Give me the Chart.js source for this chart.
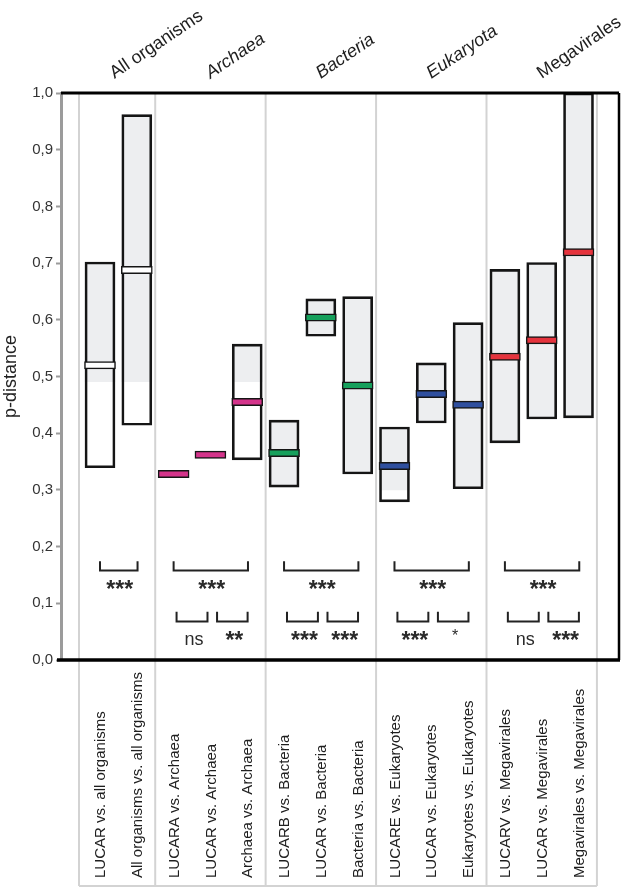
<!DOCTYPE html>
<html>
<head>
<meta charset="utf-8">
<title>p-distance comparisons</title>
<script src="https://cdn.jsdelivr.net/npm/chart.js@4.4.1/dist/chart.umd.min.js"></script>
<style>
    html, body { margin: 0; padding: 0; background: #fff; }
    #wrap { position: relative; width: 630px; height: 888px; }
</style>
</head>
<body>
<div id="wrap"><canvas id="pdistChart"></canvas></div>
<script>
// ---- data ----
const categories = [
    'LUCAR vs. all organisms', 'All organisms vs. all organisms',
    'LUCARA vs. Archaea', 'LUCAR vs. Archaea', 'Archaea vs. Archaea',
    'LUCARB vs. Bacteria', 'LUCAR vs. Bacteria', 'Bacteria vs. Bacteria',
    'LUCARE vs. Eukaryotes', 'LUCAR vs. Eukaryotes', 'Eukaryotes vs. Eukaryotes',
    'LUCARV vs. Megavirales', 'LUCAR vs. Megavirales', 'Megavirales vs. Megavirales'
];
const groups = ['All organisms', 'Archaea', 'Bacteria', 'Eukaryota', 'Megavirales'];
const groupSizes = [2, 3, 3, 3, 3];
const groupItalic = [false, true, true, true, false];

const boxMin    = [0.339, 0.414, 0.325, 0.359, 0.353, 0.305, 0.571, 0.328, 0.279, 0.418, 0.302, 0.383, 0.425, 0.427];
const boxMax    = [0.702, 0.962, 0.331, 0.365, 0.557, 0.423, 0.637, 0.641, 0.411, 0.524, 0.595, 0.689, 0.701, 1.000];
const boxMedian = [0.520, 0.688, 0.328, 0.362, 0.455, 0.365, 0.604, 0.484, 0.342, 0.469, 0.450, 0.535, 0.564, 0.719];
// grey fill only reaches down to this level (lower part is white in the source figure)
const shadeFrom = [0.491, 0.491, 0.325, 0.359, 0.491, 0.305, 0.571, 0.328, 0.300, 0.418, 0.302, 0.383, 0.425, 0.427];

const groupTests = [[0, 1], [2, 4], [5, 7], [8, 10], [11, 13]];
const groupTestLabels = ['***', '***', '***', '***', '***'];
const pairTests = [[2, 3], [3, 4], [5, 6], [6, 7], [8, 9], [9, 10], [11, 12], [12, 13]];
const pairTestLabels = ['ns', '**', '***', '***', '***', '*', 'ns', '***'];

const yTicks = [0, 0.1, 0.2, 0.3, 0.4, 0.5, 0.6, 0.7, 0.8, 0.9, 1.0];

// ---- styling ----
const FONT = "'Liberation Sans', Arial, Helvetica, sans-serif";
const medianFill = ['#ffffff', '#ffffff', '#d4348b', '#d4348b', '#d4348b',
    '#16a05c', '#16a05c', '#16a05c', '#2f4f9f', '#2f4f9f', '#2f4f9f',
    '#e5333d', '#e5333d', '#e5333d'];
const BOX_FILL = '#edeef0';
const X_MIN = -1.0595, X_MAX = 14.0995;
const LABEL_BOTTOM = 878;
const FRAME_BOTTOM = 886;

Chart.defaults.font.family = FONT;

const annotations = {
    id: 'annotations',
    beforeDatasetsDraw(chart) {
        const { ctx, chartArea, scales: { x } } = chart;
        // group separators (light grey), running into the label area below
        const bounds = [-0.57];
        let acc = 0;
        groupSizes.forEach(n => { acc += n; bounds.push(acc - 0.5); });
        ctx.save();
        ctx.strokeStyle = '#d3d3d3';
        ctx.lineWidth = 2;
        bounds.forEach(b => {
            const px = x.getPixelForValue(b);
            ctx.beginPath();
            ctx.moveTo(px, chartArea.top + 1);
            ctx.lineTo(px, FRAME_BOTTOM);
            ctx.stroke();
        });
        ctx.beginPath();
        ctx.moveTo(x.getPixelForValue(bounds[0]), FRAME_BOTTOM);
        ctx.lineTo(x.getPixelForValue(bounds[bounds.length - 1]), FRAME_BOTTOM);
        ctx.stroke();
        ctx.restore();
    },
    afterDatasetsDraw(chart) {
        const { ctx, chartArea, scales: { x, y } } = chart;
        ctx.save();

        // black frame: top, right, bottom
        ctx.strokeStyle = '#000';
        ctx.lineWidth = 3;
        ctx.beginPath();
        ctx.moveTo(chartArea.left, chartArea.top);
        ctx.lineTo(chartArea.right, chartArea.top);
        ctx.stroke();
        ctx.lineWidth = 2.5;
        ctx.beginPath();
        ctx.moveTo(chartArea.right, chartArea.top);
        ctx.lineTo(chartArea.right, chartArea.bottom);
        ctx.stroke();
        ctx.lineWidth = 3.5;
        ctx.beginPath();
        ctx.moveTo(chartArea.left - 4, chartArea.bottom);
        ctx.lineTo(chartArea.right + 1, chartArea.bottom);
        ctx.stroke();

        // significance brackets
        ctx.strokeStyle = '#222';
        ctx.lineWidth = 2;
        ctx.fillStyle = '#2a2a2a';
        ctx.textAlign = 'center';
        ctx.textBaseline = 'alphabetic';

        const bracket = (xa, xb, yLine, yHook) => {
            ctx.beginPath();
            ctx.moveTo(xa, yHook);
            ctx.lineTo(xa, yLine);
            ctx.lineTo(xb, yLine);
            ctx.lineTo(xb, yHook);
            ctx.stroke();
        };
        const drawLabel = (txt, cx, yLine) => {
            if (txt === 'ns') {
                ctx.font = `18px ${FONT}`;
                ctx.fillText(txt, cx, yLine + 23.5);
            } else if (txt === '*') {
                ctx.font = `16px ${FONT}`;
                ctx.fillText(txt, cx, yLine + 20);
            } else {
                ctx.font = `bold 23px ${FONT}`;
                ctx.fillText(txt, cx, yLine + 27);
            }
        };

        const bigLine = y.getPixelForValue(0.158), bigHook = y.getPixelForValue(0.174);
        groupTests.forEach(([a, b], k) => {
            const xa = x.getPixelForValue(a), xb = x.getPixelForValue(b + 0.02);
            bracket(xa, xb, bigLine, bigHook);
            drawLabel(groupTestLabels[k], (xa + xb) / 2 + 1, bigLine);
        });

        const smallLine = y.getPixelForValue(0.068), smallHook = y.getPixelForValue(0.085);
        pairTests.forEach(([a, b], k) => {
            const first = k % 2 === 0;
            const xa = x.getPixelForValue(first ? a + 0.08 : a + 0.18);
            const xb = x.getPixelForValue(first ? b - 0.08 : b + 0.01);
            bracket(xa, xb, smallLine, smallHook);
            drawLabel(pairTestLabels[k], (xa + xb) / 2 + 2, smallLine);
        });
        ctx.restore();
    },
    afterDraw(chart) {
        const { ctx, scales: { x } } = chart;
        ctx.save();
        ctx.fillStyle = '#1e1e1e';

        // category labels, vertical, reading upwards from the bottom
        ctx.font = `15px ${FONT}`;
        ctx.textAlign = 'left';
        ctx.textBaseline = 'middle';
        categories.forEach((lab, i) => {
            ctx.save();
            ctx.translate(x.getPixelForValue(i) + 1, LABEL_BOTTOM);
            ctx.rotate(-Math.PI / 2);
            ctx.fillText(lab, 0, 0);
            ctx.restore();
        });

        // slanted group headers above the plot
        ctx.textBaseline = 'alphabetic';
        let start = 0;
        groups.forEach((g, k) => {
            const mid = start + (groupSizes[k] - 1) / 2;
            start += groupSizes[k];
            ctx.save();
            ctx.font = `${groupItalic[k] ? 'italic ' : ''}18px ${FONT}`;
            ctx.translate(x.getPixelForValue(mid) - (k === 0 ? 4 : 0), 79);
            ctx.rotate(-34 * Math.PI / 180);
            ctx.fillText(g, 0, 0);
            ctx.restore();
        });
        ctx.restore();
    }
};

const idx = categories.map((_, i) => i);

new Chart(document.getElementById('pdistChart'), {
    type: 'bar',
    data: {
        datasets: [
            {
                label: 'shade',
                data: idx.map(i => ({ x: i, y: [shadeFrom[i], boxMax[i]] })),
                backgroundColor: BOX_FILL,
                borderWidth: 0,
                barThickness: 30,
                grouped: false,
                order: 3
            },
            {
                label: 'range',
                data: idx.map(i => ({ x: i, y: [boxMin[i], boxMax[i]] })),
                backgroundColor: 'rgba(0,0,0,0)',
                borderColor: '#151515',
                borderWidth: 2,
                borderSkipped: false,
                barThickness: 30,
                grouped: false,
                order: 2
            },
            {
                label: 'median',
                data: idx.map(i => ({ x: i, y: [boxMedian[i] - 0.0065, boxMedian[i] + 0.0065] })),
                backgroundColor: medianFill,
                borderColor: '#151515',
                borderWidth: 1.5,
                borderSkipped: false,
                barThickness: 31,
                grouped: false,
                order: 1
            }
        ]
    },
    options: {
        responsive: true,
        maintainAspectRatio: false,
        animation: false,
        layout: { padding: { top: 93, right: 11, bottom: 228, left: 0 } },
        plugins: {
            legend: { display: false },
            tooltip: { enabled: false }
        },
        scales: {
            x: {
                type: 'linear',
                min: X_MIN,
                max: X_MAX,
                offset: false,
                display: false
            },
            y: {
                min: 0,
                max: 1,
                afterFit: (scale) => { scale.width = 61; },
                afterBuildTicks: (scale) => { scale.ticks = yTicks.map(v => ({ value: v })); },
                border: { display: true, color: '#9b9b9b', width: 3 },
                grid: {
                    display: true,
                    drawOnChartArea: false,
                    drawTicks: true,
                    tickLength: 5,
                    tickColor: '#9b9b9b',
                    tickWidth: 2
                },
                ticks: {
                    color: '#333',
                    padding: 3,
                    font: { size: 15 },
                    callback: (v) => Number(v).toFixed(1).replace('.', ',')
                },
                title: {
                    display: true,
                    text: 'p-distance',
                    color: '#222',
                    font: { size: 18 },
                    padding: { top: 0, bottom: 0 }
                }
            }
        }
    },
    plugins: [annotations]
});
</script>
</body>
</html>
